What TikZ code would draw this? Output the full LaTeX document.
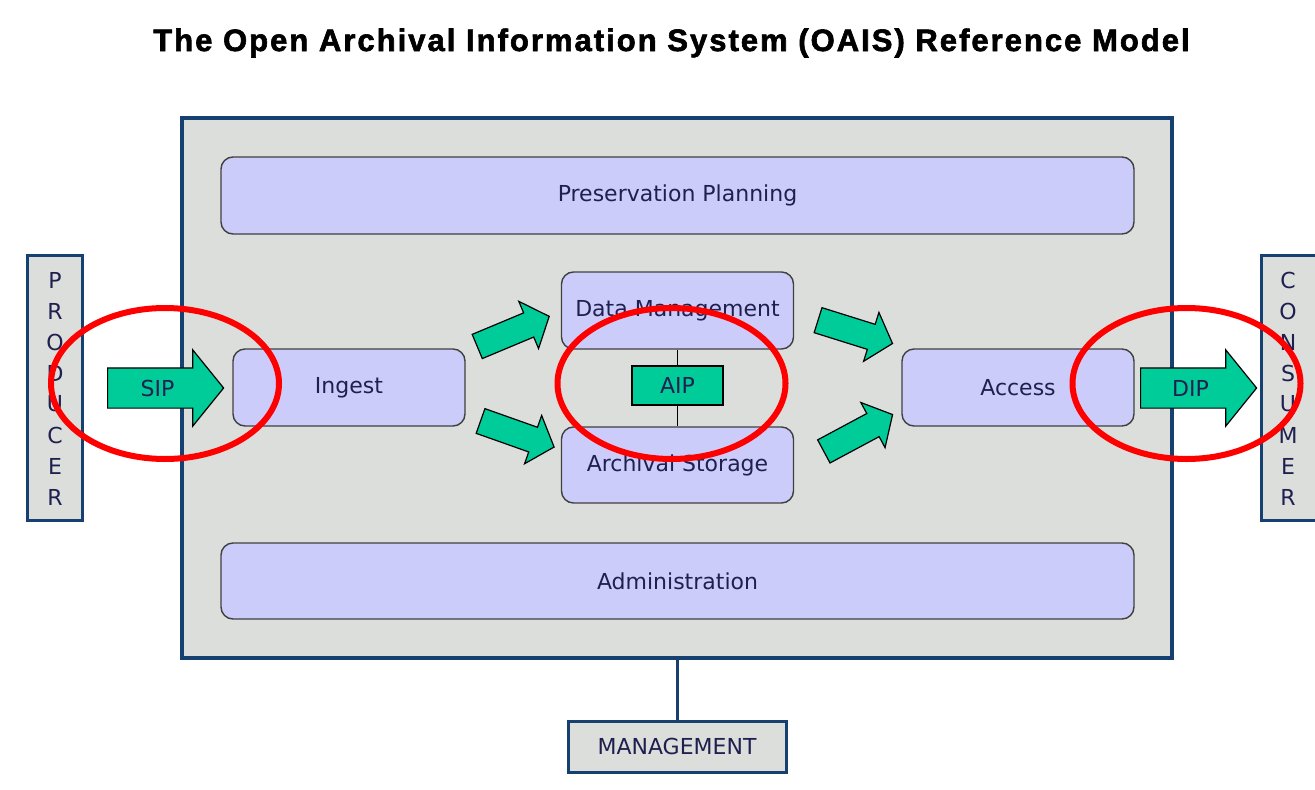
\documentclass[tikz,border=0pt]{standalone}
\usepackage{fontspec}
\setmainfont{DejaVu Sans}
\newfontfamily\titlefont[LetterSpace=6.5,BoldFeatures={FakeBold=2}]{Liberation Sans}
\usetikzlibrary{shapes.arrows}
\definecolor{oaisgray}{HTML}{DCDEDB}
\definecolor{oaisblue}{HTML}{16406F}
\definecolor{oaislav}{HTML}{CCCCFA}
\definecolor{oaisgreen}{HTML}{00CC99}
\definecolor{oaistext}{HTML}{202050}
\begin{document}
\begin{tikzpicture}[x=1pt,y=-1pt,
	    every node/.style={font=\fontsize{22}{26}\selectfont,text=oaistext},
	    func/.style={draw=black!75,line width=1.4pt,fill=oaislav,rounded corners=12pt,minimum height=77pt},
	    ent/.style={draw=oaisblue,line width=3pt,fill=oaisgray},
	    pack/.style={single arrow,draw=black,line width=1.2pt,fill=oaisgreen,inner xsep=0pt,inner ysep=19.5pt,text height=0pt,text depth=0pt,minimum height=116pt,single arrow head extend=18pt,single arrow tip angle=102,anchor=tail},
	    flow/.style={single arrow,draw=black,line width=1.2pt,fill=oaisgreen,inner xsep=0pt,inner ysep=12.5pt,text height=0pt,text depth=0pt,minimum height=78pt,single arrow head extend=12.5pt,single arrow tip angle=98,anchor=tail}]
	    \useasboundingbox[fill=white] (0,0) rectangle (1315,790);
	    \node[font=\titlefont\bfseries\fontsize{31}{35}\selectfont,text=black] (title) at (671.5,43) {The Open Archival Information System (OAIS) Reference Model};
	    \node[ent,line width=4pt,minimum width=990pt,minimum height=540pt] (oais) at (677,388) {};
	    \node[func,minimum width=913pt] (pp) at (677.5,195.5) {Preservation Planning};
	    \node[func,minimum width=913pt,minimum height=76pt] (adm) at (677.5,581) {Administration};
	    \node[func,minimum width=232pt] (ing) at (349,387.5) {Ingest};
	    \node[func,minimum width=232pt] (dm) at (677.5,310.5) {Data Management};
	    \node[func,minimum width=232pt,minimum height=76pt] (as) at (677.5,465) {Archival Storage};
	    \node[func,minimum width=232pt] (acc) at (1018,387.5) {Access};
	    \node[draw=black,line width=1.2pt,fill=oaisgreen,minimum width=91pt,minimum height=39pt,inner sep=0pt] (aip) at (677.5,385.5) {AIP};
	    \draw[line width=1.2pt] (dm.south) -- (aip) -- (as.north);
	    \node[ent,minimum width=55pt,minimum height=265pt] (prod) at (54.5,387.5) {};
	    \node[ent,minimum width=58pt,minimum height=265pt] (cons) at (1290,387.5) {};
	    \foreach \c [count=\i] in {P,R,O,D,U,C,E,R}
	        \node (p\i) at (55,249+31*\i) {\c};
	    \foreach \c [count=\i] in {C,O,N,S,U,M,E,R}
	        \node (c\i) at (1288,249+31*\i) {\c};
	    \node[pack,label={center:SIP}] (sip) at (107,388) {};
	    \node[pack,label={center:DIP}] (dip) at (1140,388) {};
	    \node[flow,rotate=22.7] (f1) at (476.7,346.7) {};
	    \node[flow,rotate=-19.5] (f2) at (480,420.8) {};
	    \node[flow,rotate=-17.4] (f3) at (817.5,320) {};
	    \node[flow,rotate=28.2] (f4) at (823.3,451.7) {};
	    \node[ent,minimum width=218pt,minimum height=51pt] (mgmt) at (677,746.5) {MANAGEMENT};
	    \draw[oaisblue,line width=3pt] (oais.south) -- (mgmt.north);
	    \draw[red,line width=6pt] (165,383.5) ellipse (114 and 75.5);
	    \draw[red,line width=6pt] (671.5,383.5) ellipse (114 and 75.5);
	    \draw[red,line width=6pt] (1186.5,383.5) ellipse (114 and 75.5);
\end{tikzpicture}
\end{document}
